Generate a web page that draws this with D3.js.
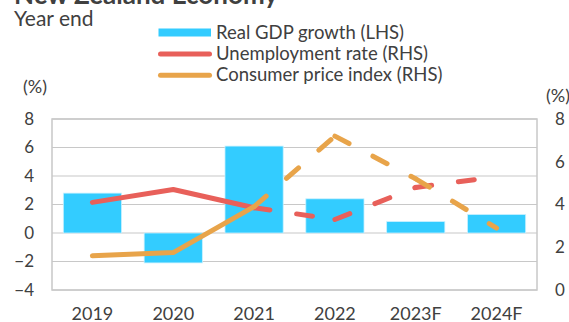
<!DOCTYPE html>
<html>
<head>
<meta charset="utf-8">
<script src="https://cdn.jsdelivr.net/npm/d3@7"></script>
<style>
  body { margin: 0; background: #fff; }
  svg { display: block; font-family: Lato, sans-serif; }
</style>
</head>
<body>
<div id="chart"></div>
<script>
// data
const years = ["2019", "2020", "2021", "2022", "2023F", "2024F"];
const gdpGrowth = [2.8, -2.1, 6.1, 2.4, 0.8, 1.3];
const unemployment = [4.1, 4.7, 3.85, 3.3, 4.8, 5.3];
const cpi = [1.6, 1.75, 3.9, 7.2, 5.2, 2.9];
const leftTicks = [-4, -2, 0, 2, 4, 6, 8];
const rightTicks = [0, 2, 4, 6, 8];
const seriesNames = ["Real GDP growth (LHS)", "Unemployment rate (RHS)", "Consumer price index (RHS)"];
const lastActual = 2; // index of 2021, forecasts dashed after it

const width = 569, height = 322;
const margin = { top: 119, right: 32, bottom: 32, left: 52 };
const textColor = "#404040";
const barColor = "#33ccff", redColor = "#e8605a", orangeColor = "#e8a44a";

const svg = d3.select("#chart").append("svg")
    .attr("width", width)
    .attr("height", height);

const x = d3.scaleBand()
    .domain(years)
    .range([margin.left, width - margin.right])
    .paddingInner(0.28)
    .paddingOuter(0.14);

const yL = d3.scaleLinear().domain([-4, 8]).range([height - margin.bottom, margin.top]);
const yR = d3.scaleLinear().domain([0, 8]).range([height - margin.bottom, margin.top]);
const cx = d => x(d) + x.bandwidth() / 2;

// title (cut off at the top) and subtitle
svg.append("text")
    .attr("x", 14).attr("y", 4)
    .attr("font-size", 26).attr("font-weight", "bold")
    .attr("fill", textColor)
    .text("New Zealand Economy");

svg.append("text")
    .attr("x", 14).attr("y", 26)
    .attr("font-size", 21)
    .attr("fill", textColor)
    .text("Year end");

// gridlines
svg.append("g").selectAll("line")
    .data(leftTicks)
    .enter().append("line")
    .attr("x1", margin.left).attr("x2", width - margin.right)
    .attr("y1", d => yL(d)).attr("y2", d => yL(d))
    .attr("stroke", "#c8c8c8").attr("stroke-width", 1.2);

svg.append("rect")
    .attr("x", margin.left).attr("y", margin.top)
    .attr("width", width - margin.left - margin.right)
    .attr("height", height - margin.top - margin.bottom)
    .attr("fill", "none")
    .attr("stroke", "#c8c8c8").attr("stroke-width", 1.5);

// bars
svg.append("g").selectAll("rect")
    .data(years)
    .enter().append("rect")
    .attr("x", d => x(d))
    .attr("width", x.bandwidth())
    .attr("y", (d, i) => yL(Math.max(0, gdpGrowth[i])))
    .attr("height", (d, i) => Math.abs(yL(gdpGrowth[i]) - yL(0)))
    .attr("fill", barColor)
    .attr("stroke", "#c9f1ff").attr("stroke-width", 0.8);

// lines: solid for actuals, dashed (each segment restarting the pattern) for later years
function drawSeries(values, color) {
    const pts = years.map((d, i) => [cx(d), yR(values[i])]);
    const g = svg.append("g")
        .attr("fill", "none")
        .attr("stroke", color)
        .attr("stroke-width", 5)
        .attr("stroke-linecap", "round")
        .attr("stroke-linejoin", "round");

    g.append("path")
        .attr("d", d3.line()(pts.slice(0, lastActual + 1)));

    for (let i = lastActual; i < pts.length - 1; i++) {
        g.append("path")
            .attr("d", d3.line()([pts[i], pts[i + 1]]))
            .attr("stroke-dasharray", "16,27");
    }
}
drawSeries(unemployment, redColor);
drawSeries(cpi, orangeColor);

// axes
const leftAxis = svg.append("g")
    .attr("transform", `translate(${margin.left},0)`)
    .call(d3.axisLeft(yL).tickValues(leftTicks).tickSize(0).tickPadding(18));

const rightAxis = svg.append("g")
    .attr("transform", `translate(${width - margin.right},0)`)
    .call(d3.axisRight(yR).tickValues(rightTicks).tickSize(0).tickPadding(18));

const bottomAxis = svg.append("g")
    .attr("transform", `translate(0,${height - margin.bottom})`)
    .call(d3.axisBottom(x).tickSize(0).tickPadding(17));

[leftAxis, rightAxis, bottomAxis].forEach(a => {
    a.select(".domain").remove();
    a.selectAll("text")
        .attr("fill", textColor)
        .attr("font-family", "Lato, sans-serif")
        .attr("font-size", 17);
});
bottomAxis.selectAll("text").attr("font-size", 18);

// unit labels
svg.append("text")
    .attr("x", 23).attr("y", 93)
    .attr("font-size", 18).attr("fill", textColor)
    .text("(%)");

svg.append("text")
    .attr("x", 546).attr("y", 102)
    .attr("font-size", 18).attr("fill", textColor)
    .text("(%)");

// legend
const legend = svg.append("g");
const rowY = [32.5, 54, 75.3];

legend.append("rect")
    .attr("x", 158.5).attr("y", rowY[0] - 4)
    .attr("width", 52.5).attr("height", 8)
    .attr("fill", barColor);

[redColor, orangeColor].forEach((c, i) => {
    legend.append("line")
        .attr("x1", 160.5).attr("x2", 209.5)
        .attr("y1", rowY[i + 1]).attr("y2", rowY[i + 1])
        .attr("stroke", c).attr("stroke-width", 5)
        .attr("stroke-linecap", "round");
});

legend.selectAll("text")
    .data(seriesNames)
    .enter().append("text")
    .attr("x", 216)
    .attr("y", (d, i) => rowY[i] + 6)
    .attr("font-size", 18.5)
    .attr("fill", textColor)
    .text(d => d);
</script>
</body>
</html>
